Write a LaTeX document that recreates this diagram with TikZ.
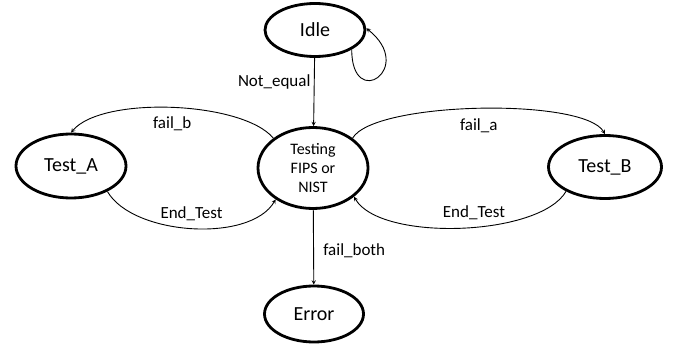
\documentclass[tikz,border=0pt]{standalone}
\usepackage{fontspec}
\setmainfont{Carlito}
\usetikzlibrary{shapes.geometric}

\begin{document}
\begin{tikzpicture}[
    x=1pt, y=1pt,
    state/.style={ellipse, draw, line width=2.8pt, inner sep=0pt, align=center, font=\fontsize{20}{24}\selectfont},
    arrow/.style={->, >=stealth, line width=0.9pt},
    lbl/.style={font=\fontsize{17}{20}\selectfont}
]
    \useasboundingbox (0,0) rectangle (679,346);

    % States
    \node[state, minimum width=100pt, minimum height=53pt] (idle) at (315,316) {Idle};
    \node[state, minimum width=110pt, minimum height=81pt, font=\fontsize{16}{19}\selectfont] (testing) at (313,178) {Testing\\FIPS or\\NIST};
    \node[state, minimum width=110pt, minimum height=64pt] (testa) at (71,180) {Test\_A};
    \node[state, minimum width=113pt, minimum height=63pt] (testb) at (605,179) {Test\_B};
    \node[state, minimum width=99pt, minimum height=56pt] (error) at (314,32) {Error};

    % Transitions
    \draw[arrow] (idle.-28) .. controls +(0,-62) and +(50,-40) .. (idle.2);
    \draw[arrow] (idle) -- (testing) node[lbl, left, pos=0.35] {Not\_equal};
    \draw[arrow] (testing.143) to[out=130, in=50, looseness=0.61] node[lbl, below=5pt] {fail\_b} (testa.north);
    \draw[arrow] (testa.-35) to[out=-60, in=-120, looseness=0.77] node[lbl, above=4pt] {End\_Test} (testing.-140);
    \draw[arrow] (testing.37) to[out=60, in=120, looseness=0.43] node[lbl, below=6pt] {fail\_a} (testb.north);
    \draw[arrow] (testb.-148) to[out=-120, in=-60, looseness=0.63] node[lbl, above=4pt, pos=0.45] {End\_Test} (testing.-35);
    \draw[arrow] (testing) -- (error) node[lbl, right=6pt, pos=0.54] {fail\_both};
\end{tikzpicture}
\end{document}
